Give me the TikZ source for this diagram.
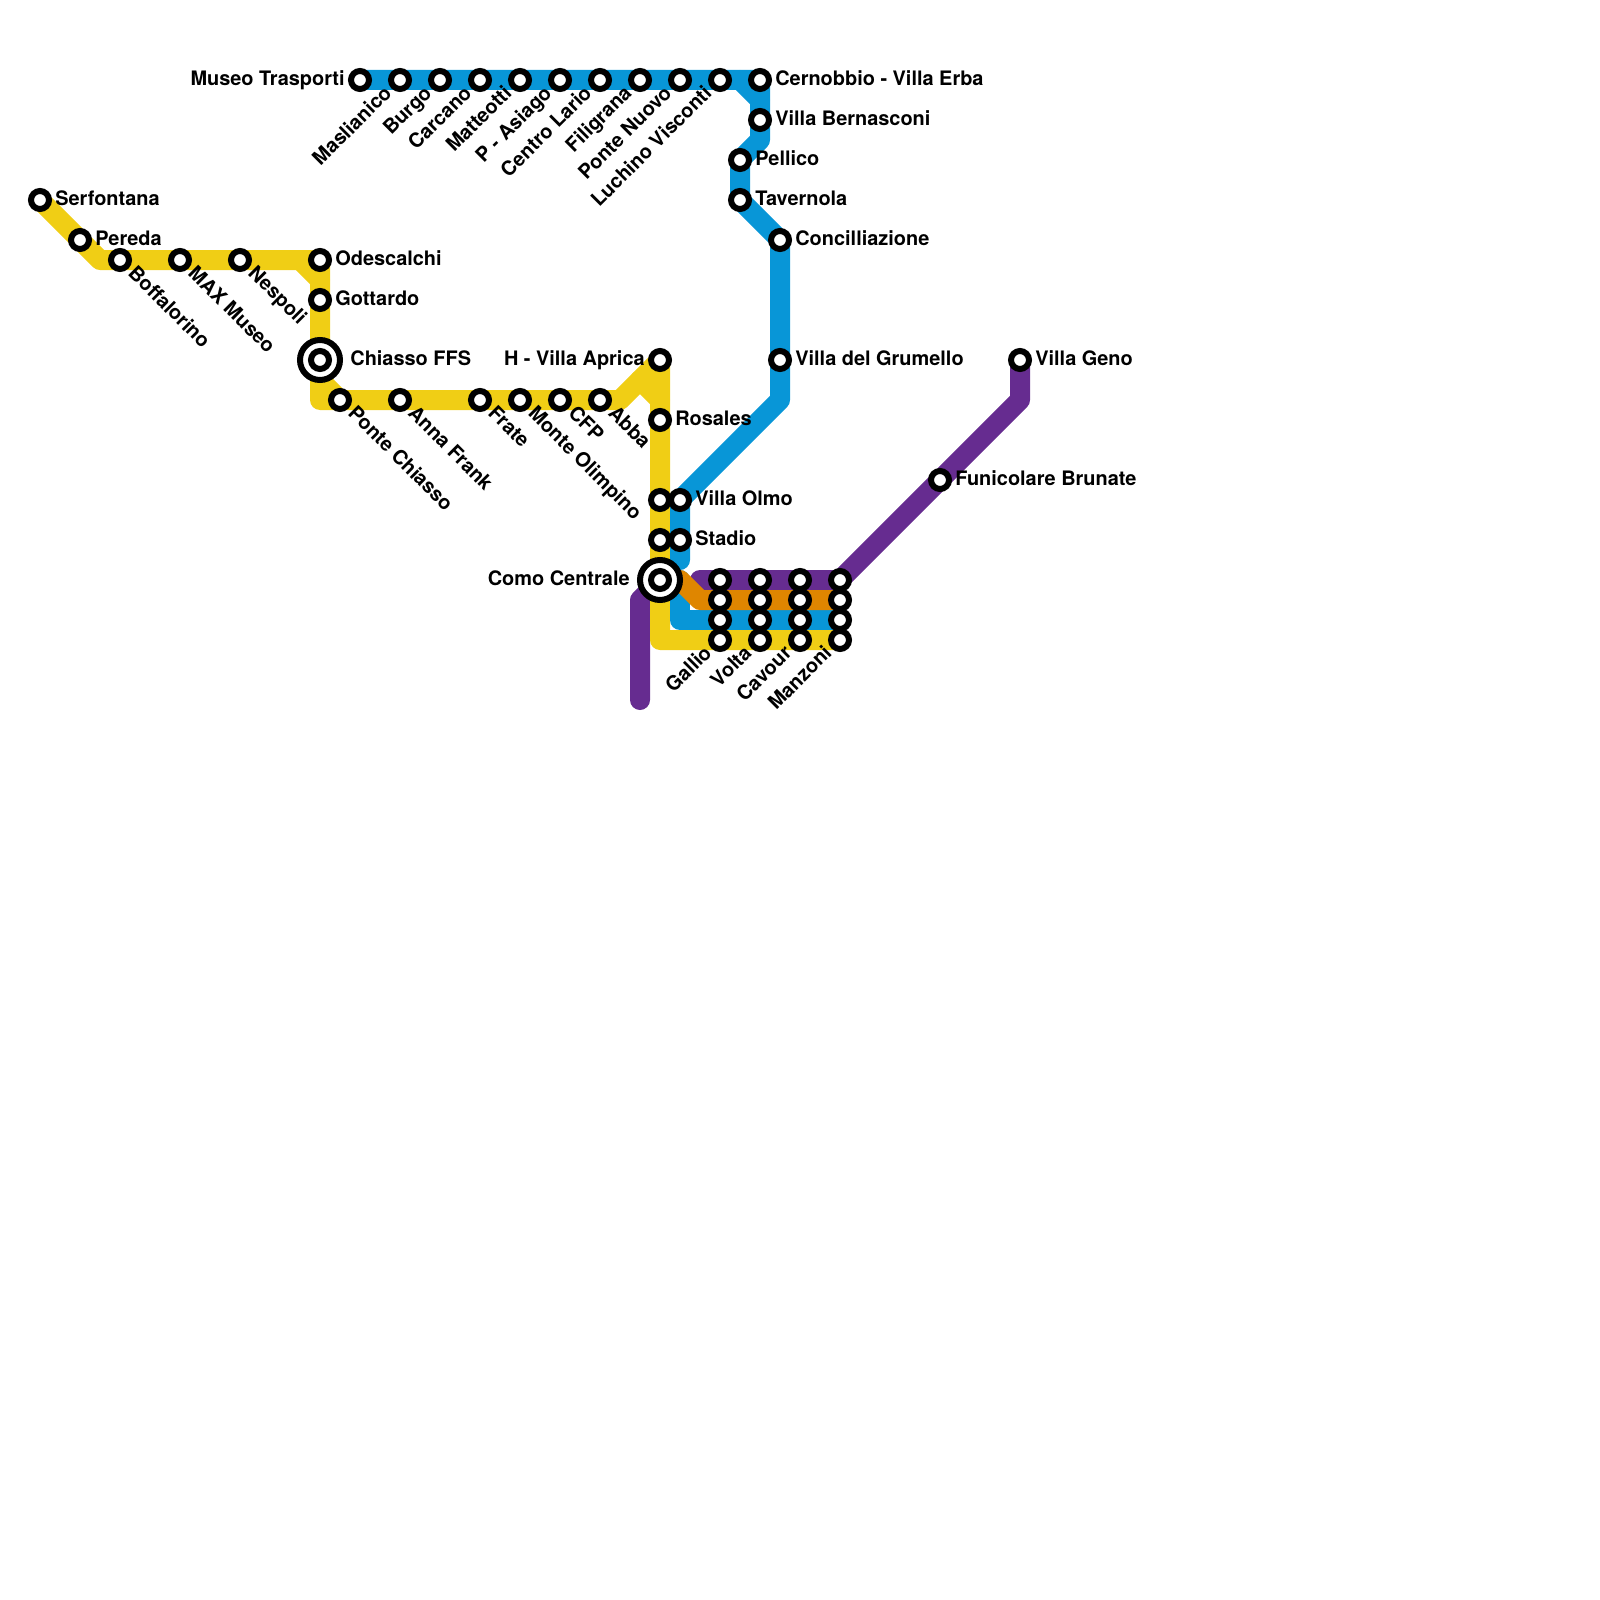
\documentclass[tikz,border=0pt]{standalone}
\usepackage{fontspec}
\setmainfont{TeX Gyre Heros}
\usetikzlibrary{backgrounds}
\definecolor{cyellow}{HTML}{F0CE15}
\definecolor{cblue}{HTML}{0896D7}
\definecolor{cpurple}{HTML}{662C90}
\definecolor{corange}{HTML}{DF8600}
\tikzset{
  every picture/.style={font=\fontsize{11.34}{13}\selectfont\bfseries},
  route/.style={draw=#1, line width=0.4cm, line cap=round, line join=round},
  stopring/.style={circle, draw=black, fill=white, line width=0.12cm, minimum size=0.36cm, inner sep=0pt},
  hubring/.style={stopring, minimum size=0.8cm},
  txt/.style={inner sep=1.7pt, text height=8.2pt, text depth=2.4pt},
  txtright/.style={txt, anchor=west},
  txtleft/.style={txt, anchor=east},
  txtdown/.style={txt, anchor=west, rotate=-45},
  txtup/.style={txt, anchor=east, rotate=45},
}

\begin{document}
\begin{tikzpicture}[x=0.4cm, y=-0.4cm]
  \useasboundingbox (0,0) rectangle (80,80);
  \coordinate (ybend1) at (5,13);
  \coordinate (ybend2) at (15,13);
  \coordinate (ybend3) at (16,14);
  \coordinate (ybend4) at (16,19);
  \coordinate (ybend5) at (16,20);
  \coordinate (ybend6) at (31,20);
  \coordinate (ybend7) at (32,19);
  \coordinate (ybend8) at (33,20);
  \coordinate (ybend9) at (33,32);
  \coordinate (bbend1) at (37,4);
  \coordinate (bbend2) at (38,5);
  \coordinate (bbend3) at (38,7);
  \coordinate (bbend4) at (39,20);
  \coordinate (bend1) at (34,28);
  \coordinate (bbend5) at (34,29);
  \coordinate (bbend6) at (34,31);
  \coordinate (obend1) at (34,29);
  \coordinate (obend2) at (35,30);
  \coordinate (pbend1) at (51,20);
  \coordinate (pbend2) at (35,29);
  \coordinate (pbend3) at (32,30);
  \coordinate (pend) at (32,35);

  \node[stopring] (serfontana) at (2,10) {};
  \node[stopring] (pereda) at (4,12) {};
  \node[stopring] (boffalorino) at (6,13) {};
  \node[stopring] (maxmuseo) at (9,13) {};
  \node[stopring] (nespoli) at (12,13) {};
  \node[stopring] (odescalchi) at (16,13) {};
  \node[stopring] (gottardo) at (16,15) {};
  \node[hubring] (chiasso) at (16,18) {};
  \node[stopring] (chiassoin) at (16,18) {};
  \node[stopring] (pontechiasso) at (17,20) {};
  \node[stopring] (annafrank) at (20,20) {};
  \node[stopring] (frate) at (24,20) {};
  \node[stopring] (olimpino) at (26,20) {};
  \node[stopring] (cfp) at (28,20) {};
  \node[stopring] (abba) at (30,20) {};
  \node[stopring] (aprica) at (33,18) {};
  \node[stopring] (rosales) at (33,21) {};
  \node[stopring] (olmoy) at (33,25) {};
  \node[stopring] (stadioy) at (33,27) {};
  \node[stopring] (olmo) at (34,25) {};
  \node[stopring] (stadio) at (34,27) {};
  \node[hubring] (como) at (33,29) {};
  \node[stopring] (comoin) at (33,29) {};

  \node[stopring] (museo) at (18,4) {};
  \node[stopring] (maslianico) at (20,4) {};
  \node[stopring] (burgo) at (22,4) {};
  \node[stopring] (carcano) at (24,4) {};
  \node[stopring] (matteotti) at (26,4) {};
  \node[stopring] (asiago) at (28,4) {};
  \node[stopring] (lario) at (30,4) {};
  \node[stopring] (filigrana) at (32,4) {};
  \node[stopring] (pontenuovo) at (34,4) {};
  \node[stopring] (visconti) at (36,4) {};
  \node[stopring] (cernobbio) at (38,4) {};
  \node[stopring] (bernasconi) at (38,6) {};
  \node[stopring] (pellico) at (37,8) {};
  \node[stopring] (tavernola) at (37,10) {};
  \node[stopring] (concilia) at (39,12) {};
  \node[stopring] (grumello) at (39,18) {};

  \node[stopring] (geno) at (51,18) {};
  \node[stopring] (funicolare) at (47,24) {};

  \node[stopring] (galliop) at (36,29) {};
  \node[stopring] (gallioo) at (36,30) {};
  \node[stopring] (galliob) at (36,31) {};
  \node[stopring] (gallio) at (36,32) {};
  \node[stopring] (voltap) at (38,29) {};
  \node[stopring] (voltao) at (38,30) {};
  \node[stopring] (voltab) at (38,31) {};
  \node[stopring] (volta) at (38,32) {};
  \node[stopring] (cavourp) at (40,29) {};
  \node[stopring] (cavouro) at (40,30) {};
  \node[stopring] (cavourb) at (40,31) {};
  \node[stopring] (cavour) at (40,32) {};
  \node[stopring] (manzonip) at (42,29) {};
  \node[stopring] (manzonio) at (42,30) {};
  \node[stopring] (manzonib) at (42,31) {};
  \node[stopring] (manzoni) at (42,32) {};

  \begin{scope}[on background layer]
    \draw[route=cpurple] (geno.center) -- (pbend1) -- (manzonip.center) -- (pbend2);
    \draw[route=cpurple] (pend) -- (pbend3) -- (como.center);
    \draw[route=cyellow] (serfontana.center) -- (ybend1) -- (odescalchi.center) -- (ybend5) -- (ybend6) -- (aprica.center) -- (ybend9) -- (manzoni.center);
    \draw[route=cyellow] (ybend2) -- (ybend3);
    \draw[route=cyellow] (ybend4) -- (pontechiasso.center);
    \draw[route=cyellow] (ybend7) -- (ybend8);
    \draw[route=cblue] (museo.center) -- (cernobbio.center) -- (bbend3) -- (pellico.center) -- (tavernola.center) -- (concilia.center) -- (bbend4) -- (olmo.center) -- (bend1);
    \draw[route=cblue] (bbend1) -- (bbend2);
    \draw[route=cblue] (bbend5) -- (bbend6) -- (manzonib.center);
    \draw[route=corange] (obend1) -- (obend2) -- (manzonio.center);
  \end{scope}

  \node[txtright] (serfontanat) at (serfontana.east) {Serfontana};
  \node[txtright] (peredat) at (pereda.east) {Pereda};
  \node[txtdown] (boffalorinot) at (boffalorino.-45) {Boffalorino};
  \node[txtdown] (maxmuseot) at (maxmuseo.-45) {MAX Museo};
  \node[txtdown] (nespolit) at (nespoli.-45) {Nespoli};
  \node[txtright] (odescalchit) at (odescalchi.east) {Odescalchi};
  \node[txtright] (gottardot) at (gottardo.east) {Gottardo};
  \node[txtright, inner xsep=4pt] (chiassot) at (chiasso.east) {Chiasso FFS};
  \node[txtdown] (pontechiassot) at (pontechiasso.-45) {Ponte Chiasso};
  \node[txtdown] (annafrankt) at (annafrank.-45) {Anna Frank};
  \node[txtdown] (fratet) at (frate.-45) {Frate};
  \node[txtdown] (olimpinot) at (olimpino.-45) {Monte Olimpino};
  \node[txtdown] (cfpt) at (cfp.-45) {CFP};
  \node[txtdown] (abbat) at (abba.-45) {Abba};
  \node[txtleft] (apricat) at (aprica.west) {H - Villa Aprica};
  \node[txtright] (rosalest) at (rosales.east) {Rosales};
  \node[txtright] (olmot) at (olmo.east) {Villa Olmo};
  \node[txtright] (stadiot) at (stadio.east) {Stadio};
  \node[txtleft, inner xsep=4pt] (comot) at (como.west) {Como Centrale};
  \node[txtleft] (museot) at (museo.west) {Museo Trasporti};
  \node[txtup] (maslianicot) at (maslianico.-135) {Maslianico};
  \node[txtup] (burgot) at (burgo.-135) {Burgo};
  \node[txtup] (carcanot) at (carcano.-135) {Carcano};
  \node[txtup] (matteottit) at (matteotti.-135) {Matteotti};
  \node[txtup] (asiagot) at (asiago.-135) {P - Asiago};
  \node[txtup] (lariot) at (lario.-135) {Centro Lario};
  \node[txtup] (filigranat) at (filigrana.-135) {Filigrana};
  \node[txtup] (pontenuovot) at (pontenuovo.-135) {Ponte Nuovo};
  \node[txtup] (viscontit) at (visconti.-135) {Luchino Visconti};
  \node[txtright] (cernobbiot) at (cernobbio.east) {Cernobbio - Villa Erba};
  \node[txtright] (bernasconit) at (bernasconi.east) {Villa Bernasconi};
  \node[txtright] (pellicot) at (pellico.east) {Pellico};
  \node[txtright] (tavernolat) at (tavernola.east) {Tavernola};
  \node[txtright] (conciliat) at (concilia.east) {Concilliazione};
  \node[txtright] (grumellot) at (grumello.east) {Villa del Grumello};
  \node[txtright] (genot) at (geno.east) {Villa Geno};
  \node[txtright] (funicolaret) at (funicolare.east) {Funicolare Brunate};
  \node[txtup] (galliot) at (gallio.-135) {Gallio};
  \node[txtup] (voltat) at (volta.-135) {Volta};
  \node[txtup] (cavourt) at (cavour.-135) {Cavour};
  \node[txtup] (manzonit) at (manzoni.-135) {Manzoni};
\end{tikzpicture}
\end{document}
